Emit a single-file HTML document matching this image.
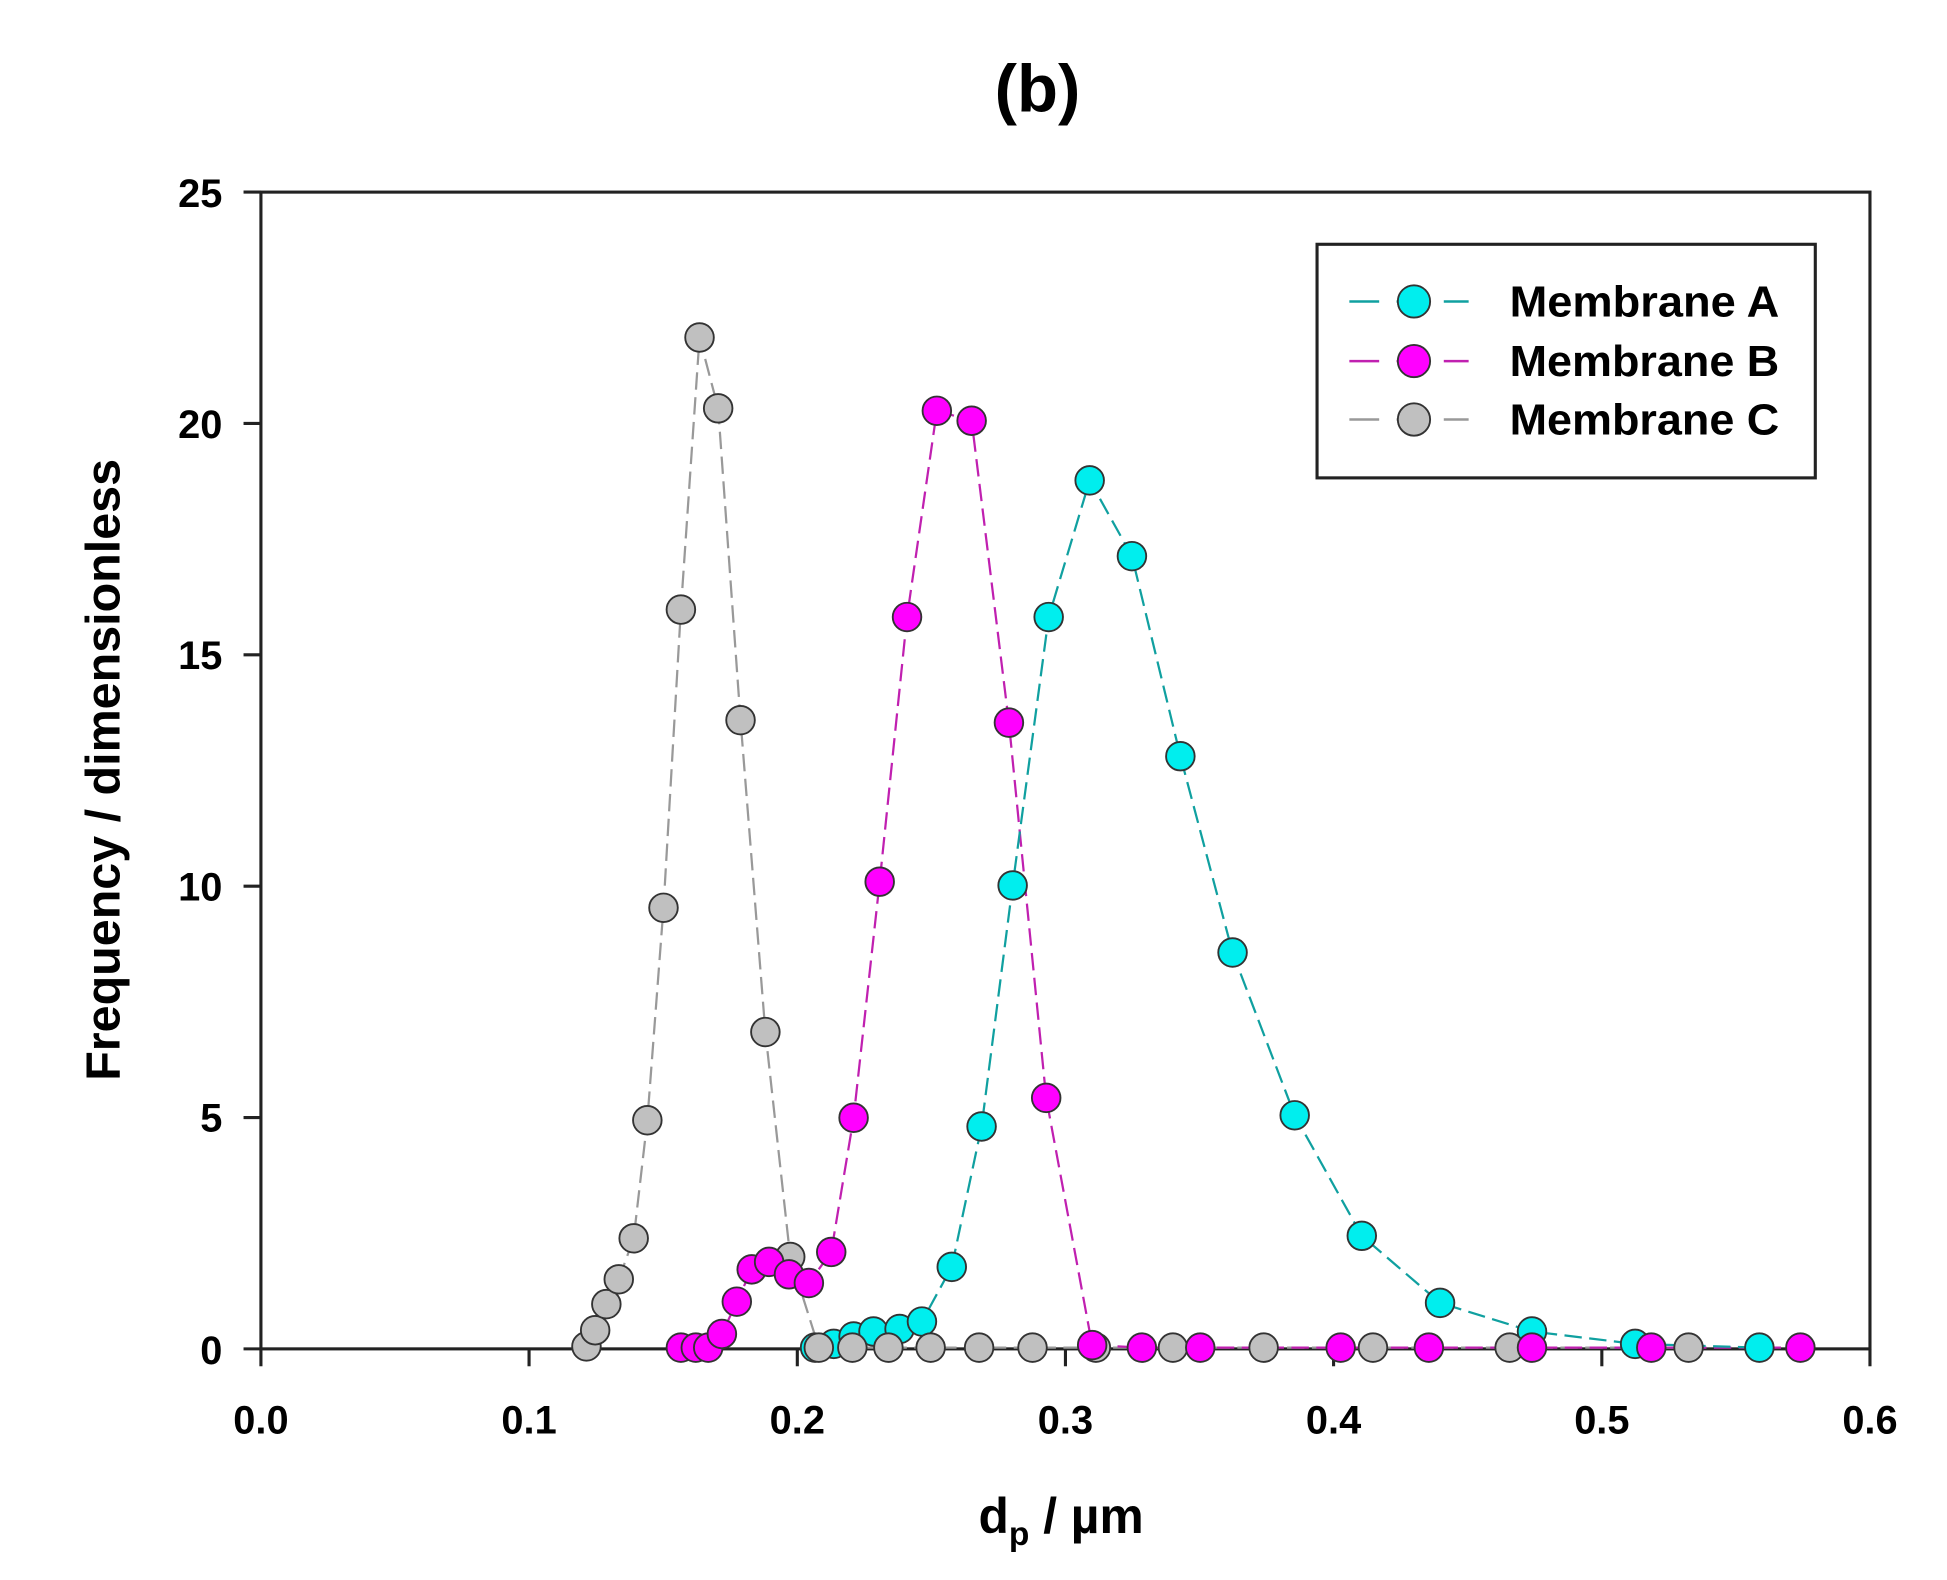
<!DOCTYPE html>
<html><head><meta charset="utf-8"><style>html,body{margin:0;padding:0;background:#fff}svg{display:block}</style></head>
<body>
<svg width="1947" height="1580" viewBox="1 0.5 1567 1271.4" xmlns="http://www.w3.org/2000/svg" font-family="Liberation Sans, Arial, sans-serif" font-weight="bold">
<rect x="0" y="0" width="1570" height="1275" fill="#fff"/>
<text x="836" y="90" font-size="54" text-anchor="middle">(b)</text>
<rect x="211" y="155" width="1295" height="931" fill="none" stroke="#222" stroke-width="2.5"/>
<g stroke="#222" stroke-width="2.5">
<line x1="197" y1="155" x2="211" y2="155"/><line x1="197" y1="341.2" x2="211" y2="341.2"/><line x1="197" y1="527.4" x2="211" y2="527.4"/><line x1="197" y1="713.6" x2="211" y2="713.6"/><line x1="197" y1="899.8" x2="211" y2="899.8"/><line x1="197" y1="1086" x2="211" y2="1086"/>
<line x1="211" y1="1086" x2="211" y2="1100"/><line x1="426.8" y1="1086" x2="426.8" y2="1100"/><line x1="642.7" y1="1086" x2="642.7" y2="1100"/><line x1="858.5" y1="1086" x2="858.5" y2="1100"/><line x1="1074.3" y1="1086" x2="1074.3" y2="1100"/><line x1="1290.2" y1="1086" x2="1290.2" y2="1100"/><line x1="1506" y1="1086" x2="1506" y2="1100"/>
</g>
<g font-size="32" text-anchor="end">
<text x="180" y="167">25</text><text x="180" y="353">20</text><text x="180" y="539">15</text><text x="180" y="725">10</text><text x="180" y="911">5</text><text x="180" y="1098">0</text>
</g>
<g font-size="32" text-anchor="middle">
<text x="211" y="1154">0.0</text><text x="426.8" y="1154">0.1</text><text x="642.7" y="1154">0.2</text><text x="858.5" y="1154">0.3</text><text x="1074.3" y="1154">0.4</text><text x="1290.2" y="1154">0.5</text><text x="1506" y="1154">0.6</text>
</g>
<text x="855" y="1234" font-size="40" text-anchor="middle">d<tspan font-size="27" dy="10">p</tspan><tspan dy="-10"> / µm</tspan></text>
<text transform="translate(97,620) rotate(-90)" font-size="39" text-anchor="middle">Frequency / dimensionless</text>

<polyline fill="none" stroke="#999" stroke-width="1.8" stroke-dasharray="14,6" points="473,1084 480,1071 489,1050 499,1030 511,997 522,902 535,731 549,491 564,272 579,329 597,580 617,831 637,1012 660,1085 687,1085 716,1085 750,1085 789,1085 832,1085 883,1085 945,1085 1018,1085 1106,1085 1216,1085 1360,1085"/>
<polyline fill="none" stroke="#c020b0" stroke-width="1.8" stroke-dasharray="14,6" points="549,1085 561,1085 571,1085 582,1074 594,1048 606,1022 620,1016 636,1026 652,1033 670,1008 688,900 709,710 731,497 755,331 783,339 813,582 843,884 880,1083 920,1085 967,1085 1020,1085 1080,1085 1151,1085 1234,1085 1330,1085 1450,1085"/>
<polyline fill="none" stroke="#10a0a0" stroke-width="1.8" stroke-dasharray="14,6" points="657,1085 672,1082 688,1076 704,1072 725,1070 743,1064 767,1020 791,907 816,713 845,497 878,387 912,448 951,609 993,767 1043,898 1097,995 1160,1049 1234,1072 1317,1082 1417,1085"/>

<g fill="#c0c0c0" stroke="#333" stroke-width="1.5">
<circle cx="473" cy="1084" r="11.5"/><circle cx="480" cy="1071" r="11.5"/><circle cx="489" cy="1050" r="11.5"/><circle cx="499" cy="1030" r="11.5"/><circle cx="511" cy="997" r="11.5"/><circle cx="522" cy="902" r="11.5"/><circle cx="535" cy="731" r="11.5"/><circle cx="549" cy="491" r="11.5"/><circle cx="564" cy="272" r="11.5"/><circle cx="579" cy="329" r="11.5"/><circle cx="597" cy="580" r="11.5"/><circle cx="617" cy="831" r="11.5"/><circle cx="637" cy="1012" r="11.5"/>
</g>
<g fill="#ff00ff" stroke="#333" stroke-width="1.5">
<circle cx="549" cy="1085" r="11.5"/><circle cx="561" cy="1085" r="11.5"/><circle cx="571" cy="1085" r="11.5"/><circle cx="582" cy="1074" r="11.5"/><circle cx="594" cy="1048" r="11.5"/><circle cx="606" cy="1022" r="11.5"/><circle cx="620" cy="1016" r="11.5"/><circle cx="636" cy="1026" r="11.5"/><circle cx="652" cy="1033" r="11.5"/><circle cx="670" cy="1008" r="11.5"/><circle cx="688" cy="900" r="11.5"/><circle cx="709" cy="710" r="11.5"/><circle cx="731" cy="497" r="11.5"/><circle cx="755" cy="331" r="11.5"/><circle cx="783" cy="339" r="11.5"/><circle cx="813" cy="582" r="11.5"/><circle cx="843" cy="884" r="11.5"/>
</g>
<g fill="#00eeee" stroke="#333" stroke-width="1.5">
<circle cx="657" cy="1085" r="11.5"/><circle cx="672" cy="1082" r="11.5"/><circle cx="688" cy="1076" r="11.5"/><circle cx="704" cy="1072" r="11.5"/><circle cx="725" cy="1070" r="11.5"/><circle cx="743" cy="1064" r="11.5"/><circle cx="767" cy="1020" r="11.5"/><circle cx="791" cy="907" r="11.5"/><circle cx="816" cy="713" r="11.5"/><circle cx="845" cy="497" r="11.5"/><circle cx="878" cy="387" r="11.5"/><circle cx="912" cy="448" r="11.5"/><circle cx="951" cy="609" r="11.5"/><circle cx="993" cy="767" r="11.5"/><circle cx="1043" cy="898" r="11.5"/><circle cx="1097" cy="995" r="11.5"/><circle cx="1160" cy="1049" r="11.5"/><circle cx="1234" cy="1072" r="11.5"/><circle cx="1317" cy="1082" r="11.5"/><circle cx="1417" cy="1085" r="11.5"/>
</g>
<g fill="#c0c0c0" stroke="#333" stroke-width="1.5">
<circle cx="660" cy="1085" r="11.5"/><circle cx="687" cy="1085" r="11.5"/><circle cx="716" cy="1085" r="11.5"/><circle cx="750" cy="1085" r="11.5"/><circle cx="789" cy="1085" r="11.5"/><circle cx="832" cy="1085" r="11.5"/><circle cx="883" cy="1085" r="11.5"/><circle cx="945" cy="1085" r="11.5"/><circle cx="1018" cy="1085" r="11.5"/><circle cx="1106" cy="1085" r="11.5"/><circle cx="1216" cy="1085" r="11.5"/><circle cx="1360" cy="1085" r="11.5"/>
</g>
<g fill="#ff00ff" stroke="#333" stroke-width="1.5">
<circle cx="880" cy="1083" r="11.5"/><circle cx="920" cy="1085" r="11.5"/><circle cx="967" cy="1085" r="11.5"/><circle cx="1080" cy="1085" r="11.5"/><circle cx="1151" cy="1085" r="11.5"/><circle cx="1234" cy="1085" r="11.5"/><circle cx="1330" cy="1085" r="11.5"/><circle cx="1450" cy="1085" r="11.5"/>
</g>

<rect x="1061" y="197" width="401" height="188" fill="#fff" stroke="#222" stroke-width="2.5"/>
<line x1="1087" y1="243" x2="1183" y2="243" stroke="#10a0a0" stroke-width="2" stroke-dasharray="24,14"/>
<circle cx="1139" cy="243" r="13" fill="#00eeee" stroke="#333" stroke-width="1.5"/>
<line x1="1087" y1="291" x2="1183" y2="291" stroke="#c020b0" stroke-width="2" stroke-dasharray="24,14"/>
<circle cx="1139" cy="291" r="13" fill="#ff00ff" stroke="#333" stroke-width="1.5"/>
<line x1="1087" y1="338" x2="1183" y2="338" stroke="#999" stroke-width="2" stroke-dasharray="24,14"/>
<circle cx="1139" cy="338" r="13" fill="#c0c0c0" stroke="#333" stroke-width="1.5"/>
<g font-size="35">
<text x="1216" y="255" textLength="217" lengthAdjust="spacingAndGlyphs">Membrane A</text><text x="1216" y="303" textLength="217" lengthAdjust="spacingAndGlyphs">Membrane B</text><text x="1216" y="350" textLength="217" lengthAdjust="spacingAndGlyphs">Membrane C</text>
</g>
</svg>
</body></html>
